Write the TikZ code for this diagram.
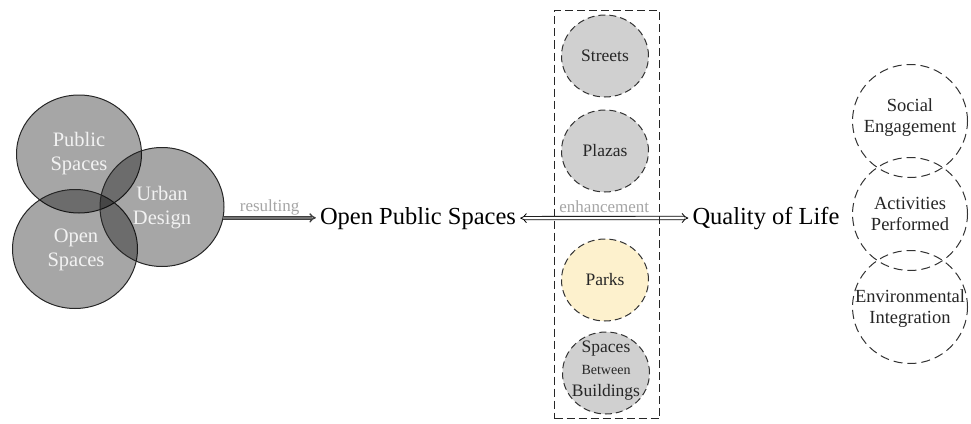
\documentclass[tikz,border=0pt]{standalone}
\usepackage{fontspec}
\setmainfont{Liberation Serif}
\usetikzlibrary{shapes.geometric,arrows.meta,fit}
\definecolor{midfill}{RGB}{208,208,208}
\definecolor{parkfill}{RGB}{253,241,205}
\definecolor{lblgray}{RGB}{165,165,165}
\tikzset{
  leftcirc/.style={ellipse, draw=black!85, line width=1pt, fill=black, fill opacity=0.35, inner sep=0pt},
  lefttxt/.style={text=white!95!black, align=center, inner sep=0pt, font=\fontsize{20.5}{24}\selectfont},
  midcirc/.style={ellipse, draw=black!80, line width=1pt, dash pattern=on 7pt off 4pt, fill=midfill, minimum width=87pt, minimum height=82pt, inner sep=0pt},
  midtxt/.style={text=black!85, align=center, inner sep=0pt, font=\fontsize{17.5}{22}\selectfont},
  rightcirc/.style={ellipse, draw=black!80, line width=1pt, dash pattern=on 9pt off 5pt, minimum width=115pt, minimum height=113pt, inner sep=0pt},
  righttxt/.style={text=black!85, align=center, inner sep=0pt, font=\fontsize{18.5}{21}\selectfont},
  bigtxt/.style={anchor=base, inner sep=4pt, font=\fontsize{24.5}{28}\selectfont},
  lbl/.style={midway, anchor=base, yshift=6pt, inner sep=0pt, text=lblgray, font=\fontsize{17}{20}\selectfont},
  resarrow/.style={draw=black!75, double=black!55, double distance=1.6pt, line width=1.4pt, -{Implies}},
  enharrow/.style={draw=black, double=white, double distance=2.6pt, line width=0.8pt, {Implies}-{Implies}},
  groupbox/.style={draw=black!85, line width=1pt, dash pattern=on 8pt off 4pt}
}
\begin{document}
\begin{tikzpicture}[x=1pt, y=-1pt]
\useasboundingbox (0,0) rectangle (971,423);
% left Venn circles
\node[leftcirc, minimum width=125pt, minimum height=118pt] (ps) at (79,154) {};
\node[leftcirc, minimum width=125pt, minimum height=119pt] (os) at (75,249) {};
\node[leftcirc, minimum width=124pt, minimum height=119pt] (ud) at (162,207) {};
\node[lefttxt] (pst) at (79,154) {Public\\Spaces};
\node[lefttxt] (udt) at (162,208) {Urban\\Design};
\node[lefttxt] (ost) at (76,250) {Open\\Spaces};
% central texts
\node[bigtxt] (ops) at (418,224) {Open Public Spaces};
\node[bigtxt] (qol) at (766,224) {Quality of Life};
% middle circles
\node[midcirc] (st) at (605,56) {};
\node[midcirc] (pl) at (605,151) {};
\node[midcirc, fill=parkfill] (pk) at (605,280) {};
\node[midcirc] (sbb) at (606,373) {};
\node[midtxt] at (st) {Streets};
\node[midtxt] at (pl) {Plazas};
\node[midtxt] at (pk) {Parks};
\node[midtxt] at (606,371) {Spaces\\{\fontsize{14}{22}\selectfont Between}\\Buildings};
% right circles
\node[rightcirc] (se) at (910,121) {};
\node[rightcirc] (ap) at (910,214) {};
\node[rightcirc] (ei) at (910,307) {};
\node[righttxt] at (910,118) {Social\\Engagement};
\node[righttxt] at (910,214) {Activities\\Performed};
\node[righttxt] at (910,309) {Environmental\\Integration};
% arrows
\draw[resarrow] (ud.-10) -- (ud.-10 -| ops.west) node[lbl] {resulting};
\draw[enharrow] (ops.east) -- (qol.west) node[lbl] {enhancement};
% group box
\node[groupbox, fit=(st)(sbb), inner xsep=8pt, inner ysep=4pt, xshift=1.5pt] (grp) {};
\end{tikzpicture}
\end{document}
